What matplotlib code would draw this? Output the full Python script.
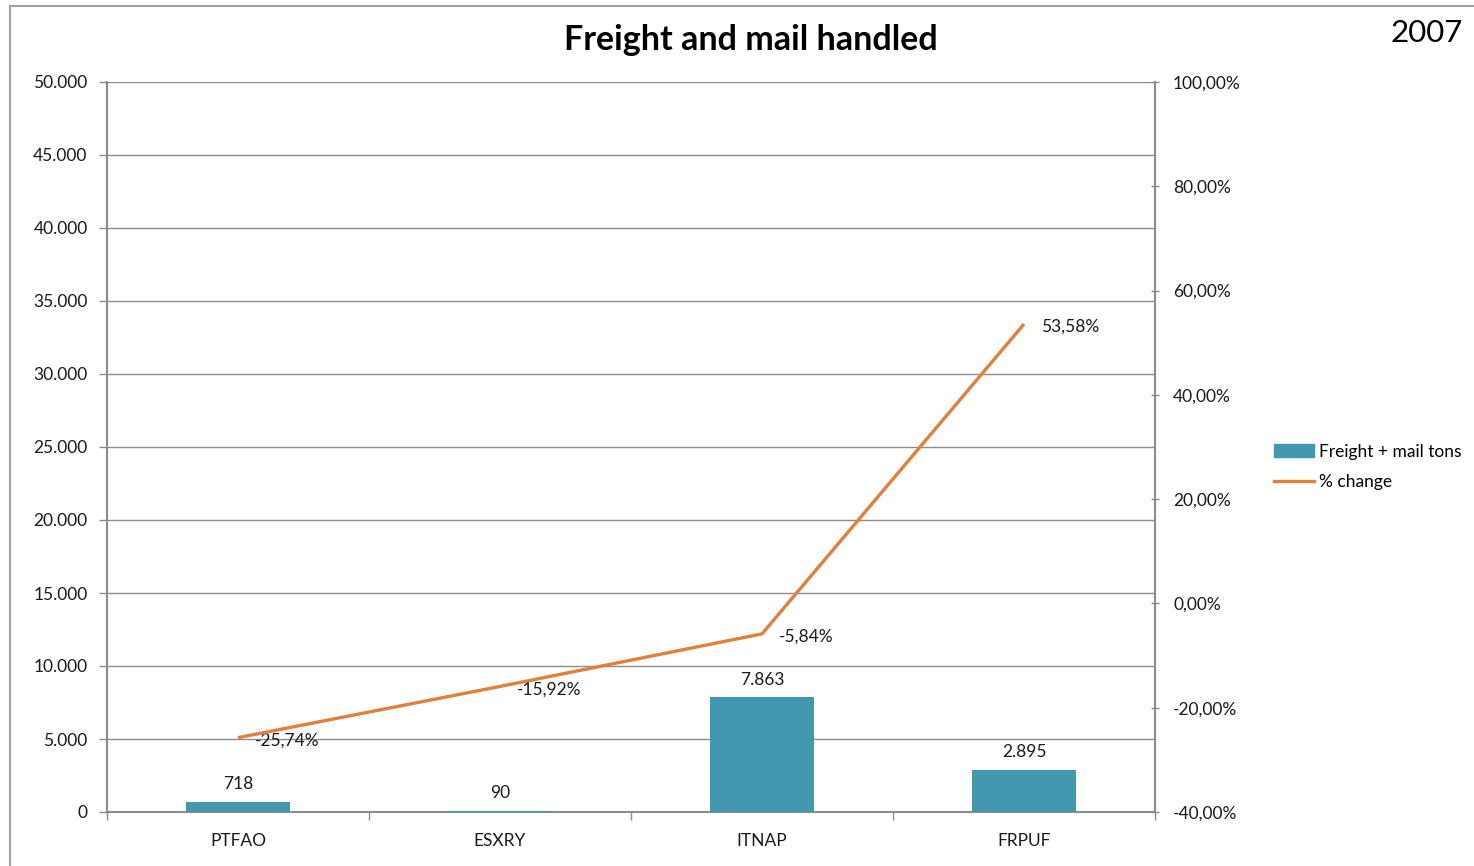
import matplotlib
matplotlib.use("Agg")
import matplotlib.pyplot as plt
from matplotlib.patches import Rectangle
from matplotlib.lines import Line2D
from matplotlib.ticker import FuncFormatter, MultipleLocator

# Data
airports = ["PTFAO", "ESXRY", "ITNAP", "FRPUF"]
tons = [718, 90, 7863, 2895]
pct_change = [-25.74, -15.92, -5.84, 53.58]

BAR_COLOR = "#4398AF"
LINE_COLOR = "#E0803A"
GRID_COLOR = "#8C8C8C"
TEXT_COLOR = "#1A1A1A"
FS = 12.5

plt.rcParams["font.family"] = ["Lato", "DejaVu Sans"]

W, H = 1474, 866
fig = plt.figure(figsize=(W / 100, H / 100), dpi=100)
fig.patch.set_facecolor("white")

# Outer chart frame
fig.patches.append(Rectangle((10 / W, -0.1), 1.2, 1 - 6 / H + 0.1,
                             transform=fig.transFigure, fill=False,
                             edgecolor="#A0A0A0", linewidth=1.5))

ax = fig.add_axes([107 / W, 1 - 812 / H, (1155 - 107) / W, (812 - 82) / H])
ax2 = ax.twinx()

x = list(range(len(airports)))
ax.bar(x, tons, width=0.4, color=BAR_COLOR, zorder=3)
ax.set_xlim(-0.5, len(airports) - 0.5)
ax.set_ylim(0, 50000)
ax.yaxis.set_major_locator(MultipleLocator(5000))
ax.yaxis.set_major_formatter(FuncFormatter(lambda v, p: f"{int(v):,}".replace(",", ".")))
ax.grid(axis="y", color=GRID_COLOR, linewidth=1.0, zorder=0)
ax.set_axisbelow(True)

ax.set_xticks([i - 0.5 for i in range(len(airports) + 1)])
ax.set_xticklabels([])
ax.set_xticks(x, minor=True)
ax.set_xticklabels(airports, minor=True)
ax.tick_params(axis="x", which="major", length=6, direction="out", color=GRID_COLOR, width=1)
ax.tick_params(axis="x", which="minor", length=0, pad=15, labelsize=FS, labelcolor=TEXT_COLOR)
ax.tick_params(axis="y", length=6, direction="out", color=GRID_COLOR, width=1,
               labelsize=FS, labelcolor=TEXT_COLOR, pad=8)

ax.spines["top"].set_visible(False)
ax2.spines["top"].set_visible(False)
ax.spines["right"].set_visible(False)
for sp in ["left", "bottom"]:
    ax.spines[sp].set_color(GRID_COLOR)
    ax.spines[sp].set_linewidth(1.5)
ax2.spines["right"].set_color(GRID_COLOR)
ax2.spines["right"].set_linewidth(1.5)
ax2.spines["left"].set_visible(False)
ax2.spines["bottom"].set_visible(False)

for xi, v in zip(x, tons):
    ax.annotate(f"{v:,}".replace(",", "."), (xi, v), xytext=(0, 12.5),
                textcoords="offset points", ha="center", va="center",
                fontsize=FS, color=TEXT_COLOR)

ax2.plot(x, pct_change, color=LINE_COLOR, linewidth=2.4, zorder=4,
         solid_capstyle="butt")
ax2.set_ylim(-40, 100)
ax2.yaxis.set_major_locator(MultipleLocator(20))
ax2.yaxis.set_major_formatter(FuncFormatter(lambda v, p: f"{v:.2f}%".replace(".", ",")))
ax2.tick_params(axis="y", length=6, direction="inout", color=GRID_COLOR, width=1,
                labelsize=FS, labelcolor=TEXT_COLOR, pad=10)

for xi, v in zip(x, pct_change):
    ax2.annotate(f"{v:.2f}%".replace(".", ","), (xi, v), xytext=(12, -2),
                 textcoords="offset points", ha="left", va="center",
                 fontsize=FS, color=TEXT_COLOR)

fig.text(751 / W, 1 - 40 / H, "Freight and mail handled", ha="center", va="center",
         fontsize=24.5, fontweight="bold", color="black")
fig.text(1463 / W, 1 - 33 / H, "2007", ha="right", va="center",
         fontsize=22.5, color="black")

handles = [Rectangle((0, 0), 1, 1, color=BAR_COLOR),
           Line2D([0], [0], color=LINE_COLOR, linewidth=2.4)]
fig.legend(handles, ["Freight + mail tons", "% change"], loc="center left",
           bbox_to_anchor=(1274 / W, 1 - 467 / H), frameon=False, fontsize=FS,
           handlelength=2.3, handletextpad=0.3, labelspacing=0.85, borderpad=0,
           borderaxespad=0)

fig.savefig("out.png", dpi=100, facecolor="white")
